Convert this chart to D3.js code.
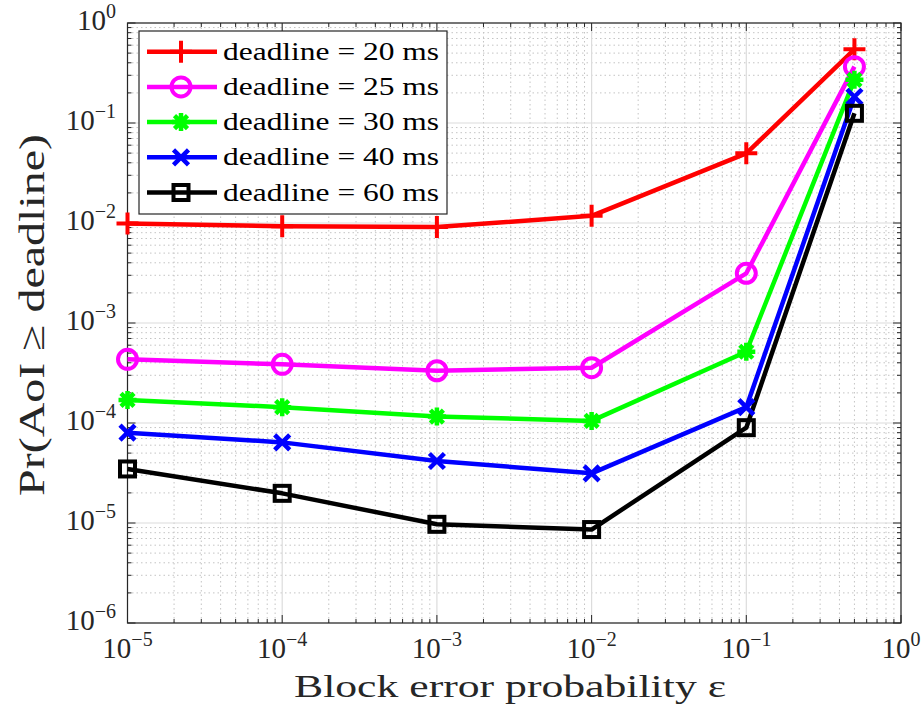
<!DOCTYPE html>
<html><head><meta charset="utf-8">
<script src="https://cdn.jsdelivr.net/npm/d3@7"></script>
<style>body{margin:0;background:#fff}svg{display:block}</style>
</head><body>
<svg id="c" width="923" height="715"></svg>
<script>
const xValues = [1e-5, 1e-4, 1e-3, 1e-2, 1e-1, 0.5];
const seriesNames = ["deadline = 20 ms","deadline = 25 ms","deadline = 30 ms","deadline = 40 ms","deadline = 60 ms"];
const d20 = [0.0099, 0.0093, 0.0091, 0.0118, 0.0497, 0.545];
const d25 = [4.33e-4, 3.86e-4, 3.33e-4, 3.57e-4, 3.14e-3, 0.366];
const d30 = [1.70e-4, 1.44e-4, 1.16e-4, 1.05e-4, 5.16e-4, 0.27];
const d40 = [8.0e-5, 6.4e-5, 4.17e-5, 3.14e-5, 1.44e-4, 0.183];
const d60 = [3.47e-5, 1.98e-5, 9.7e-6, 8.6e-6, 8.98e-5, 0.125];
const xTickExps = [-5,-4,-3,-2,-1,0];
const yTickExps = [-6,-5,-4,-3,-2,-1,0];
const colors = ["#ff0000","#ff00ff","#00ff00","#0000ff","#000000"];
const markers = ["plus","circle","star","cross","square"];
const allSeries = [d20,d25,d30,d40,d60];

const svg = d3.select("#c");
const L=127.5,R=901,T=23,B=623;
const x = d3.scaleLog().domain([1e-5,1]).range([L,R]);
const y = d3.scaleLog().domain([1e-6,1]).range([B,T]);
const font = "'Liberation Serif','DejaVu Serif',serif";
const axisCol = "#262626";

// grid
const g = svg.append("g");
const minorX=[], minorY=[];
for(let e=-5;e<0;e++) for(let m=2;m<10;m++) minorX.push(m*Math.pow(10,e));
for(let e=-6;e<0;e++) for(let m=2;m<10;m++) minorY.push(m*Math.pow(10,e));
g.selectAll(".mx").data(minorX).join("line").attr("x1",d=>x(d)).attr("x2",d=>x(d)).attr("y1",T).attr("y2",B)
 .attr("stroke","#c4c4c4").attr("stroke-width",1).attr("stroke-dasharray","1.5,3");
g.selectAll(".my").data(minorY).join("line").attr("y1",d=>y(d)).attr("y2",d=>y(d)).attr("x1",L).attr("x2",R)
 .attr("stroke","#c4c4c4").attr("stroke-width",1).attr("stroke-dasharray","1.5,3");
g.selectAll(".gx").data(xTickExps).join("line").attr("x1",d=>x(Math.pow(10,d))).attr("x2",d=>x(Math.pow(10,d))).attr("y1",T).attr("y2",B)
 .attr("stroke","#dcdcdc").attr("stroke-width",1.2);
g.selectAll(".gy").data(yTickExps).join("line").attr("y1",d=>y(Math.pow(10,d))).attr("y2",d=>y(Math.pow(10,d))).attr("x1",L).attr("x2",R)
 .attr("stroke","#dcdcdc").attr("stroke-width",1.2);

// ticks (inside, all sides)
const tk = svg.append("g").attr("stroke",axisCol).attr("stroke-width",1);
xTickExps.forEach(e=>{const p=x(Math.pow(10,e));
  tk.append("line").attr("x1",p).attr("x2",p).attr("y1",B).attr("y2",B-8);
  tk.append("line").attr("x1",p).attr("x2",p).attr("y1",T).attr("y2",T+8);});
minorX.forEach(v=>{const p=x(v);
  tk.append("line").attr("x1",p).attr("x2",p).attr("y1",B).attr("y2",B-4);
  tk.append("line").attr("x1",p).attr("x2",p).attr("y1",T).attr("y2",T+4);});
yTickExps.forEach(e=>{const p=y(Math.pow(10,e));
  tk.append("line").attr("y1",p).attr("y2",p).attr("x1",L).attr("x2",L+8);
  tk.append("line").attr("y1",p).attr("y2",p).attr("x1",R).attr("x2",R-8);});
minorY.forEach(v=>{const p=y(v);
  tk.append("line").attr("y1",p).attr("y2",p).attr("x1",L).attr("x2",L+4);
  tk.append("line").attr("y1",p).attr("y2",p).attr("x1",R).attr("x2",R-4);});
svg.append("rect").attr("x",L).attr("y",T).attr("width",R-L).attr("height",B-T)
 .attr("fill","none").attr("stroke",axisCol).attr("stroke-width",1.2);

// tick labels
function powLabel(sel, e, anchor){
  const t = sel.append("text").attr("font-family",font).attr("fill",axisCol).attr("text-anchor",anchor);
  t.append("tspan").attr("font-size",29).text("10");
  t.append("tspan").attr("font-size",20).attr("dy",-12).text(e===0?"0":"\u2212"+Math.abs(e));
  return t;
}
xTickExps.forEach(e=>{ powLabel(svg,e,"middle").attr("x",x(Math.pow(10,e))).attr("y",658); });
yTickExps.forEach(e=>{ powLabel(svg,e,"end").attr("x",116).attr("y",y(Math.pow(10,e))+7); });

// axis labels
svg.append("text").attr("x",510).attr("y",697).attr("text-anchor","middle").attr("font-family",font)
 .attr("font-size",32).attr("fill",axisCol).attr("textLength",432).attr("lengthAdjust","spacingAndGlyphs")
 .text("Block error probability \u03b5");
svg.append("text").attr("transform","translate(44,315) rotate(-90)").attr("text-anchor","middle").attr("font-family",font)
 .attr("font-size",36).attr("fill",axisCol).attr("textLength",362).attr("lengthAdjust","spacingAndGlyphs")
 .text("Pr(AoI \u2265 deadline)");

// marker drawing
function drawMarker(sel, type, cx, cy, color){
  const m = sel.append("g").attr("transform",`translate(${cx},${cy})`).attr("stroke",color).attr("fill","none").attr("stroke-width",4);
  if(type==="plus"){ m.append("path").attr("d","M-11,0H11M0,-11V11"); }
  else if(type==="circle"){ m.append("circle").attr("r",9.5); }
  else if(type==="star"){ m.append("path").attr("d","M-9,0H9M0,-9V9M-6.5,-6.5L6.5,6.5M-6.5,6.5L6.5,-6.5").attr("stroke-width",4.5); }
  else if(type==="cross"){ m.append("path").attr("d","M-7.5,-7.5L7.5,7.5M-7.5,7.5L7.5,-7.5").attr("stroke-width",4.5); }
  else if(type==="square"){ m.append("rect").attr("x",-7.5).attr("y",-7.5).attr("width",15).attr("height",15).attr("stroke-width",4); }
}

// lines
const line = d3.line().x((d,i)=>x(xValues[i])).y(d=>y(d));
allSeries.forEach((s,k)=>{
  svg.append("path").attr("d",line(s)).attr("fill","none").attr("stroke",colors[k]).attr("stroke-width",4.5).attr("stroke-linejoin","round");
});
allSeries.forEach((s,k)=>{
  s.forEach((v,i)=>drawMarker(svg,markers[k],x(xValues[i]),y(v),colors[k]));
});

// legend
const lg = svg.append("g");
lg.append("rect").attr("x",139).attr("y",31).attr("width",308).attr("height",183).attr("fill","#fff").attr("stroke",axisCol).attr("stroke-width",1.2);
seriesNames.forEach((n,k)=>{
  const ry = 51.7 + k*35.2;
  lg.append("line").attr("x1",147).attr("x2",217).attr("y1",ry).attr("y2",ry).attr("stroke",colors[k]).attr("stroke-width",4.5);
  drawMarker(lg,markers[k],181,ry,colors[k]);
  lg.append("text").attr("x",223).attr("y",ry+8).attr("font-family",font).attr("font-size",25).attr("fill","#000")
    .attr("textLength",216).attr("lengthAdjust","spacingAndGlyphs").text(n);
});
</script>
</body></html>
